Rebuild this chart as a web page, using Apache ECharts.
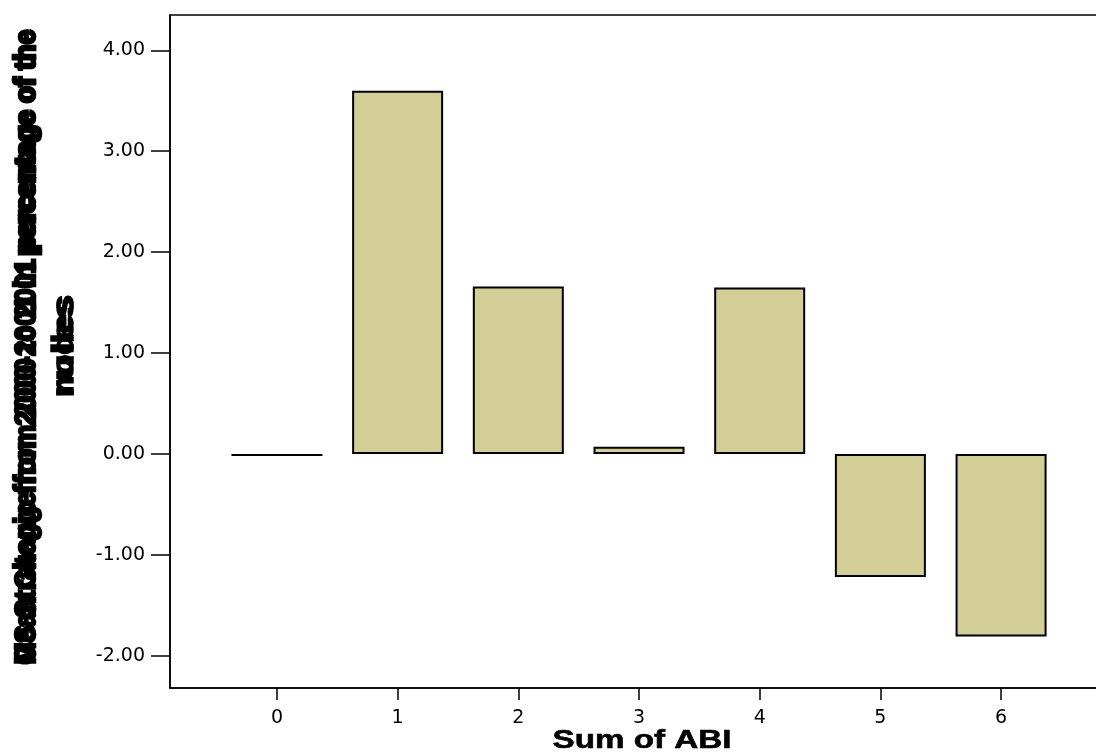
<!DOCTYPE html>
<html><head><meta charset="utf-8">
<script src="https://cdn.jsdelivr.net/npm/echarts@6/dist/echarts.min.js"></script>
<style>html,body{margin:0;padding:0;background:#fff}#c{width:1096px;height:752px}</style>
</head><body><div id="c"></div>
<script>
const categories = [0, 1, 2, 3, 4, 5, 6];
const meanChange = [-0.02, 3.60, 1.66, 0.07, 1.65, -1.22, -1.81];
const yTicks = [-2, -1, 0, 1, 2, 3, 4];
const xTitle = 'Sum of ABI';
const yTitleA = ['Mean Change from 2000 to 2001 percentage of the', 'rules'];
const yTitleB = ['OS Strategic from 2000-2001 in percentage of the', 'nodes'];

const chart = echarts.init(document.getElementById('c'));
const font = 'Liberation Sans';
const labelFont = 'DejaVu Sans';
const mctx = document.createElement('canvas').getContext('2d');
function measure(t, size) {
  mctx.font = 'bold ' + size + 'px "' + font + '"';
  return mctx.measureText(t).width;
}
function titleText(t, x, y, size, length, rot, sw) {
  const s = length / measure(t, size);
  return {type:'text', x:x, y:y, rotation:rot, scaleX:s, scaleY:1,
    style:{text:t, font:'bold ' + size + 'px "' + font + '"',
      fill:'#000', stroke:'#000', lineWidth:sw, align:'center', verticalAlign:'middle'}};
}
chart.setOption({
  animation:false,
  grid:{left:170, top:15, right:-12, bottom:64, outerBoundsMode:'none', containLabel:false,
    show:true, borderColor:'#000', borderWidth:1.5, backgroundColor:'transparent'},
  xAxis:{type:'value', min:-0.886, max:6.886,
    axisLine:{show:true, onZero:false, lineStyle:{color:'#000', width:1.5}},
    axisTick:{show:true, length:12, customValues:categories, lineStyle:{color:'#000', width:1.5}},
    axisLabel:{customValues:categories, margin:21, fontFamily:labelFont, fontSize:19, color:'#000'},
    splitLine:{show:false}},
  yAxis:{type:'value', min:-2.32, max:4.35,
    axisLine:{show:true, onZero:false, lineStyle:{color:'#000', width:1.5}},
    axisTick:{show:true, length:19, customValues:yTicks, lineStyle:{color:'#000', width:1.5}},
    axisLabel:{customValues:yTicks, margin:25, fontFamily:labelFont, fontSize:19, color:'#000',
      formatter:v => v.toFixed(2)},
    splitLine:{show:false}},
  series:[{type:'bar', barWidth:91,
    data:categories.map((c,i)=>[c, meanChange[i]]),
    itemStyle:{color:'#D3CE96', borderColor:'#000', borderWidth:2}}],
  graphic:[
    titleText(yTitleA[0], 27, 347, 30, 635, Math.PI/2, 2.5),
    titleText(yTitleB[0], 27, 347, 30, 635, Math.PI/2, 2.5),
    titleText(yTitleA[1], 65, 346, 30, 102, Math.PI/2, 1.5),
    titleText(yTitleB[1], 65, 346, 30, 102, Math.PI/2, 1.5),
    titleText(xTitle, 642, 741, 26, 179, 0, 0.6)
  ]
});
</script></body></html>
